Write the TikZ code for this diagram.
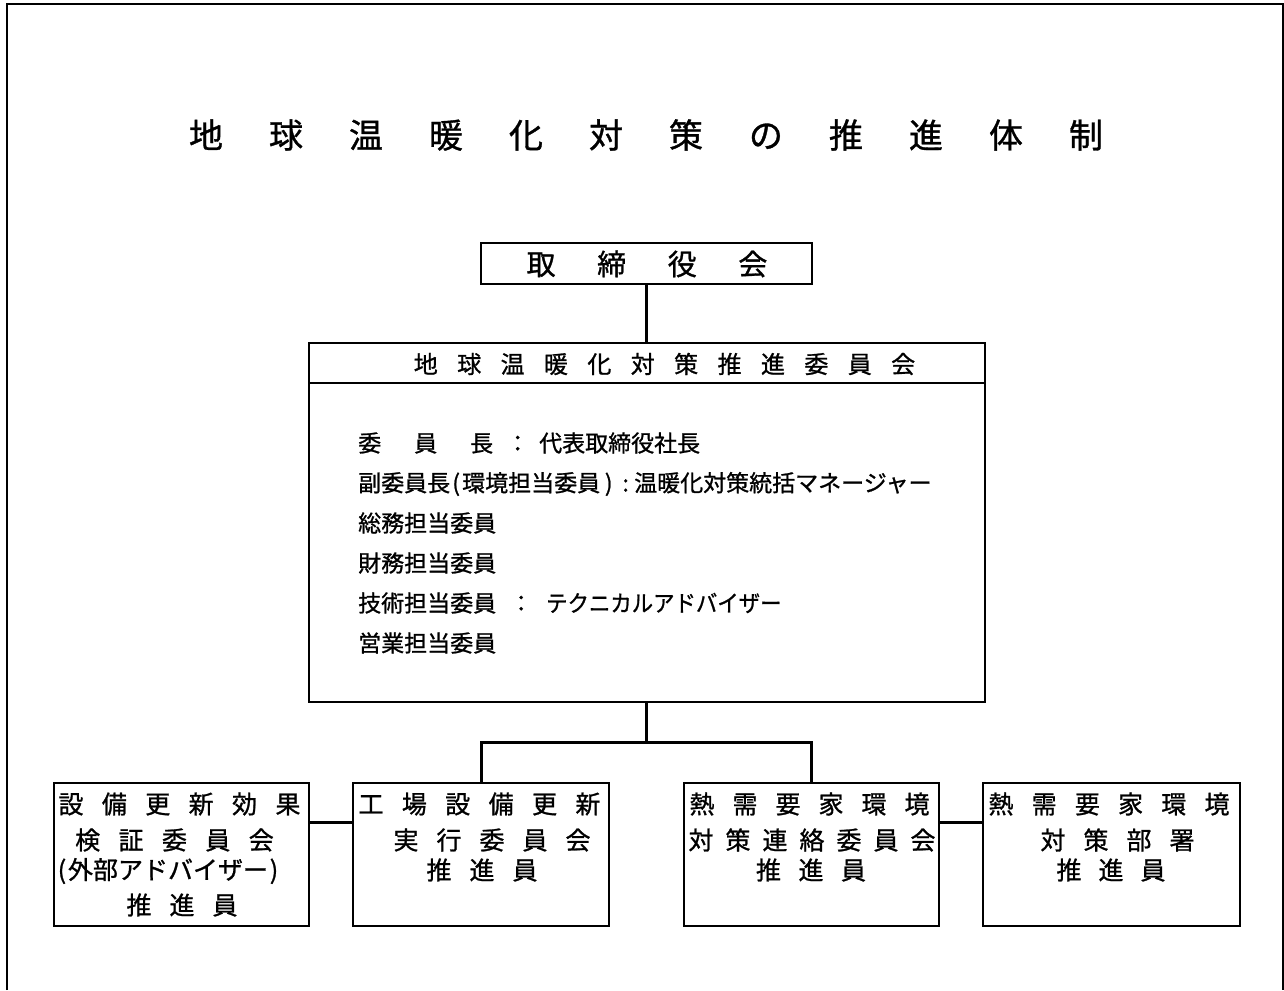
\documentclass[tikz,border=0pt]{standalone}
\usepackage{fontspec}
\usepackage{graphicx}
\newfontfamily\jp[FakeBold=1.0]{Noto Sans CJK JP}
\makeatletter
\newcommand\pitched[2]{\@tfor\pch:=#2\do{\makebox[#1]{\pch}}}
\makeatother
\newcommand\fs[1]{\fontsize{#1}{#1}\selectfont}
\begin{document}
\begin{tikzpicture}[x=1pt,y=-1pt,
  box/.style={draw, line width=2pt, inner sep=0pt, rectangle},
  conn/.style={line width=3pt},
  frame/.style={line width=2pt},
  txt/.style={inner sep=0pt},
  title/.style={txt, font=\jp\fs{34}},
  topt/.style={txt, font=\jp\fs{29}},
  head/.style={txt, font=\jp\fs{24}},
  body/.style={txt, font=\jp\fs{23}, anchor=west},
  small/.style={txt, font=\jp\fs{25}}]
\useasboundingbox (0,0) rectangle (1284,990);
% outer frame (open at bottom)
\draw[frame] (6.5,990) -- (6.5,4.5) -- (1282.5,4.5) -- (1282.5,990);

% title
\node[title] (ttl) at (646,135) {\pitched{80pt}{地球温暖化対策の推進体制}};

% board
\node[box, minimum width=331pt, minimum height=41pt] (board) at (646.5,263.5) {};
\node[topt] (boardt) at (647,264) {\pitched{70.6pt}{取締役会}};

% committee
\node[box, minimum width=676pt, minimum height=359pt] (comm) at (647,522.5) {};
\draw[box] ([yshift=-41pt]comm.north west) -- ([yshift=-41pt]comm.north east);
\node[head] (commt) at (664.5,364) {\pitched{43.4pt}{地球温暖化対策推進委員会}};
\node[body] (m1) at (358,443) {\makebox[56pt][l]{委}\makebox[56pt][l]{員}\makebox[36pt][l]{長}\makebox[33pt][l]{：}代表取締役社長};
\node[body] (m2) at (358,484) {副委員長\makebox[12pt]{(}環境担当委員\makebox[17pt]{)}\makebox[17pt]{:}温暖化対策統括マネージャー};
\node[body] (m3) at (358,523) {総務担当委員};
\node[body] (m4) at (358,563) {財務担当委員};
\node[body] (m5) at (358,603) {技術担当委員\makebox[50pt]{：}\scalebox{0.93}[1]{テクニカルアドバイザー}};
\node[body] (m6) at (358,643) {営業担当委員};

% bottom boxes
\node[box, minimum width=255pt, minimum height=143pt] (b1) at (181.5,854.5) {};
\node[box, minimum width=256pt, minimum height=143pt] (b2) at (481,854.5) {};
\node[box, minimum width=255pt, minimum height=143pt] (b3) at (811.5,854.5) {};
\node[box, minimum width=257pt, minimum height=143pt] (b4) at (1111.5,854.5) {};

\node[small] (b1a) at (179.5,804) {\pitched{43.4pt}{設備更新効果}};
\node[small] (b1b) at (174.5,840) {\pitched{43.4pt}{検証委員会}};
\node[small] (b1c) at (168,871) {\makebox[12pt]{(}外部アドバイザー\makebox[12pt]{)}};
\node[small] (b1d) at (182,905) {\pitched{43pt}{推進員}};

\node[small] (b2a) at (479.5,804) {\pitched{43.4pt}{工場設備更新}};
\node[small] (b2b) at (492,840) {\pitched{43pt}{実行委員会}};
\node[small] (b2c) at (482,870) {\pitched{43pt}{推進員}};

\node[small] (b3a) at (809.5,804) {\pitched{43pt}{熱需要家環境}};
\node[small] (b3b) at (812,840) {\pitched{37pt}{対策連絡委員会}};
\node[small] (b3c) at (811,870) {\pitched{42.5pt}{推進員}};

\node[small] (b4a) at (1109,804) {\pitched{43.2pt}{熱需要家環境}};
\node[small] (b4b) at (1117.5,840) {\pitched{43pt}{対策部署}};
\node[small] (b4c) at (1111,870) {\pitched{42pt}{推進員}};

% connectors
\coordinate (j) at (646.5,742);
\draw[conn] (board.south) -- (board.south |- comm.north);
\draw[conn] (comm.south -| j) -- (j);
\draw[conn] (b2.north) |- (j) -| (b3.north);
\draw[conn] ([yshift=-40pt]b1.north east) -- ([yshift=-40pt]b2.north west);
\draw[conn] ([yshift=-40pt]b3.north east) -- ([yshift=-40pt]b4.north west);
\end{tikzpicture}
\end{document}
